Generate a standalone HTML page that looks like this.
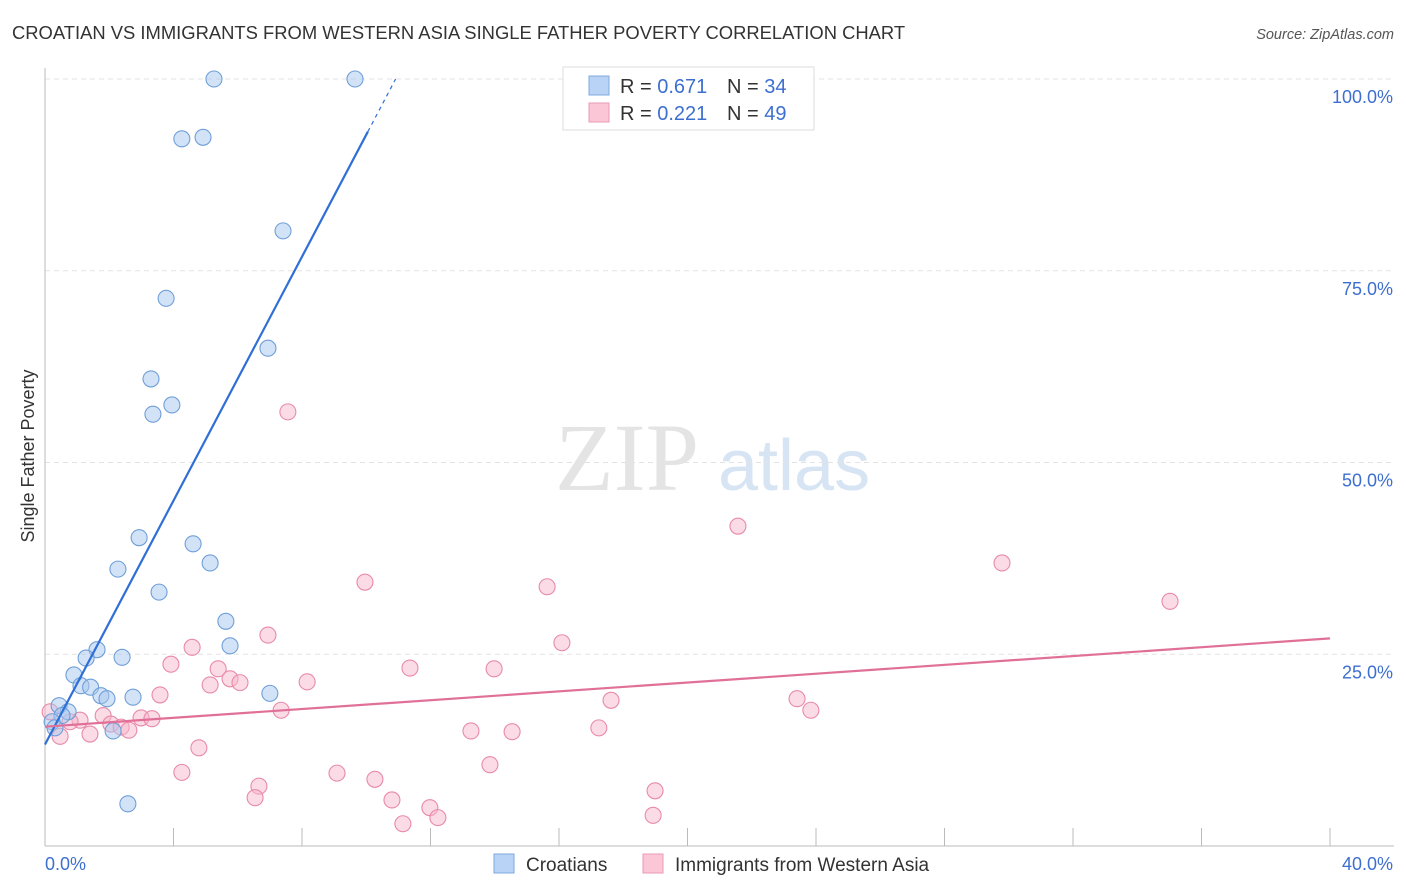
<!DOCTYPE html>
<html><head><meta charset="utf-8"><style>
body{margin:0;background:#fff;font-family:"Liberation Sans",sans-serif;}
svg{display:block}
</style></head><body>
<svg id="c" width="1406" height="892" xmlns="http://www.w3.org/2000/svg">
<text x="12" y="39" font-size="18.4" fill="#333">CROATIAN VS IMMIGRANTS FROM WESTERN ASIA SINGLE FATHER POVERTY CORRELATION CHART</text>
<text x="1394" y="39" font-size="14.5" fill="#555" font-style="italic" text-anchor="end">Source: ZipAtlas.com</text>
<g><text x="555" y="490" font-size="96" font-family="Liberation Serif" fill="#e4e4e4">ZIP</text><text x="718" y="490" font-size="72" fill="#d7e4f3">atlas</text></g>
<g id="grid"></g><g id="axes"></g><g id="pts"></g><g id="lines"></g>
<text transform="translate(34,456) rotate(-90)" font-size="18" fill="#333" text-anchor="middle">Single Father Poverty</text>
<g>
<rect x="563" y="67" width="251" height="63" fill="#fff" stroke="#ddd"/>
<rect x="589" y="76" width="20" height="19" fill="#b8d3f5" stroke="#7fa8de"/>
<rect x="589" y="103" width="20" height="19" fill="#fbc6d5" stroke="#eb9ab4"/>
<text x="620" y="93" font-size="20" fill="#333">R = <tspan fill="#3d6fd0">0.671</tspan></text>
<text x="727" y="93" font-size="20" fill="#333">N = <tspan fill="#3d6fd0">34</tspan></text>
<text x="620" y="120" font-size="20" fill="#333">R = <tspan fill="#3d6fd0">0.221</tspan></text>
<text x="727" y="120" font-size="20" fill="#333">N = <tspan fill="#3d6fd0">49</tspan></text>
</g>
<g>
<rect x="494" y="854" width="20" height="19" fill="#b8d3f5" stroke="#7fa8de"/>
<text x="526" y="871" font-size="19" fill="#333">Croatians</text>
<rect x="643" y="854" width="20" height="19" fill="#fbc6d5" stroke="#eb9ab4"/>
<text x="675" y="871" font-size="19" fill="#333">Immigrants from Western Asia</text>
</g>
</svg>
<script>
const blueX=[5.26,9.65,4.26,4.92,7.41,3.77,6.94,3.30,3.95,3.36,2.93,4.61,2.27,5.14,3.55,5.63,5.76,1.62,2.40,1.28,0.90,1.12,1.42,1.74,1.93,2.74,7.0,0.44,0.72,0.53,0.22,0.31,2.12,2.58];
const blueY=[100,100,92.2,92.4,80.2,71.4,64.9,60.9,57.5,56.3,40.2,39.4,36.1,36.9,33.1,29.3,26.1,25.6,24.6,24.5,22.3,20.9,20.7,19.6,19.2,19.4,19.9,18.3,17.5,17.0,16.2,15.4,15.0,5.5];
const pinkX=[7.56,21.57,29.79,9.96,15.63,35.02,6.94,16.09,4.58,3.92,11.36,13.98,5.39,5.76,6.07,5.14,8.16,3.58,17.62,23.41,23.84,7.35,1.81,1.09,2.99,3.33,2.05,2.37,2.61,0.78,1.40,0.47,13.26,14.54,17.24,4.79,4.26,9.09,13.85,10.27,6.66,18.99,6.54,10.80,11.98,12.23,11.14,18.93,0.16];
const pinkY=[56.6,41.7,36.9,34.4,33.8,31.9,27.5,26.5,25.9,23.7,23.2,23.1,23.1,21.8,21.3,21.0,21.4,19.7,19.0,19.2,17.7,17.7,17.0,16.4,16.7,16.6,15.9,15.5,15.1,16.2,14.6,14.3,15.0,14.9,15.4,12.8,9.6,9.5,10.6,8.7,7.8,7.2,6.3,6.0,5.0,3.7,2.9,4.0,17.5];
const yTicks=[25,50,75,100];
const yTickLabels=["25.0%","50.0%","75.0%","100.0%"];
const xTicks=[0,4,8,12,16,20,24,28,32,36,40];
const NS="http://www.w3.org/2000/svg";
const sx=v=>45+v*(1330-45)/40, sy=v=>846-v*(846-79)/100;
function mk(p,t,a){const e=document.createElementNS(NS,t);for(const k in a)e.setAttribute(k,a[k]);document.getElementById(p).appendChild(e);return e;}
yTicks.forEach((v,i)=>{
 const g=mk('grid','line',{x1:45,x2:1394,y1:sy(v),y2:sy(v),stroke:'#e3e3e3','stroke-dasharray':'5,4'});
 
 
 const t=mk('axes','text',{x:1393,y:sy(v)+24,'font-size':18,fill:'#3d6fd0','text-anchor':'end'});t.textContent=yTickLabels[i];
 
 
});
let ax=mk('axes','line',{x1:45,x2:45,y1:68,y2:846,stroke:'#bbb'});


ax=mk('axes','line',{x1:45,x2:1394,y1:846,y2:846,stroke:'#bbb'});


xTicks.forEach(v=>{const l=mk('axes','line',{x1:sx(v),x2:sx(v),y1:828,y2:846,stroke:'#bbb'});
 
 });
let t=mk('axes','text',{x:45,y:870,'font-size':18,fill:'#3d6fd0'});t.textContent='0.0%';


t=mk('axes','text',{x:1393,y:870,'font-size':18,fill:'#3d6fd0','text-anchor':'end'});t.textContent='40.0%';


function pts(X,Y,fill,stroke,name){X.forEach((x,i)=>{const c=mk('pts','circle',{cx:sx(x),cy:sy(Y[i]),r:8,fill:fill,'fill-opacity':0.5,stroke:stroke,'stroke-width':1.1});
 
 });}
pts(pinkX,pinkY,'#f7b8cb','#e88aa8','immigrant-point');
pts(blueX,blueY,'#a8c8f0','#6f9fd8','croatian-point');
function fit(X,Y){const n=X.length;let mx=0,my=0;for(let i=0;i<n;i++){mx+=X[i];my+=Y[i];}mx/=n;my/=n;let sxy=0,sxx=0;for(let i=0;i<n;i++){sxy+=(X[i]-mx)*(Y[i]-my);sxx+=(X[i]-mx)**2;}const b=sxy/sxx;return [my-b*mx,b];}
const [ba,bb]=fit(blueX,blueY);
const xs=Math.max(...blueX)+0.4;
let L=mk('lines','line',{x1:sx(0),y1:sy(ba),x2:sx(xs),y2:sy(ba+bb*xs),stroke:'#2f6fd6','stroke-width':2.2});


const xe=Math.min(40,(100-ba)/bb);
L=mk('lines','line',{x1:sx(xs),y1:sy(ba+bb*xs),x2:sx(xe),y2:sy(ba+bb*xe),stroke:'#2f6fd6','stroke-width':1.2,'stroke-dasharray':'4,4'});


const [pa,pb]=fit(pinkX,pinkY);
L=mk('lines','line',{x1:sx(0),y1:sy(pa),x2:sx(40),y2:sy(pa+pb*40),stroke:'#e07098','stroke-width':2.2});


</script>
</body></html>
